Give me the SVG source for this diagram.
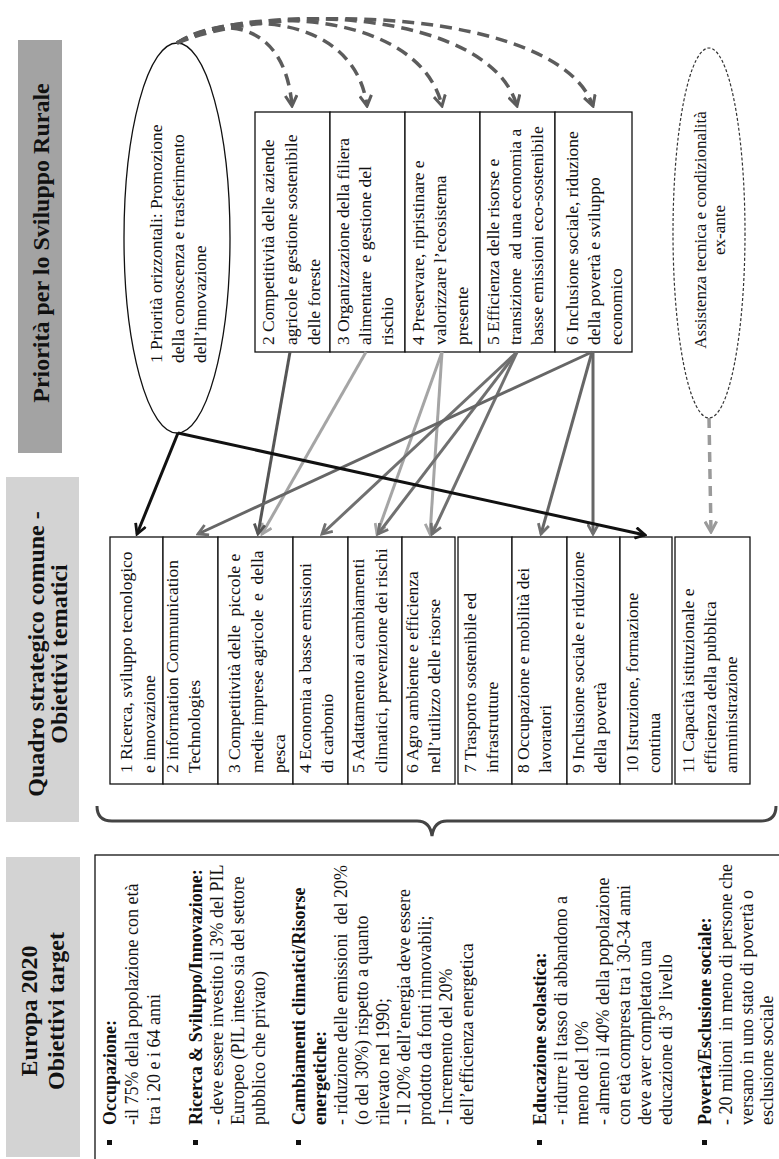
<svg xmlns="http://www.w3.org/2000/svg" width="779" height="1159" viewBox="0 0 779 1159">
<defs>
<style>
.hdr{font-family:"Liberation Serif","Times New Roman",serif;font-weight:bold;font-size:24px;fill:#111;text-anchor:middle}
.bx{font-family:"Liberation Serif","Times New Roman",serif;font-size:17.5px;fill:#111}
.eu{font-family:"Liberation Serif","Times New Roman",serif;font-size:18px;fill:#111}
.as{font-family:"Liberation Serif","Times New Roman",serif;font-size:17px;fill:#111;text-anchor:middle}
.b{font-weight:bold}
.box{fill:#fff;stroke:#111;stroke-width:1.3}
.ell{fill:#fff;stroke:#111;stroke-width:1.3}
.c{fill:none;stroke-width:3;stroke-linecap:butt}
.dash{fill:none;stroke:#5c5c5c;stroke-width:3.5;stroke-dasharray:12 7}
</style>
<marker id="mk-k" viewBox="0 0 12 12" refX="10" refY="6" markerWidth="13" markerHeight="13" orient="auto" markerUnits="userSpaceOnUse"><path d="M1,1 L10,6 L1,11" fill="none" stroke="#111" stroke-width="2.6"/></marker>
<marker id="mk-d" viewBox="0 0 12 12" refX="10" refY="6" markerWidth="13" markerHeight="13" orient="auto" markerUnits="userSpaceOnUse"><path d="M1,1 L10,6 L1,11" fill="none" stroke="#555" stroke-width="2.6"/></marker>
<marker id="mk-m" viewBox="0 0 12 12" refX="10" refY="6" markerWidth="13" markerHeight="13" orient="auto" markerUnits="userSpaceOnUse"><path d="M1,1 L10,6 L1,11" fill="none" stroke="#707070" stroke-width="2.6"/></marker>
<marker id="mk-l" viewBox="0 0 12 12" refX="10" refY="6" markerWidth="13" markerHeight="13" orient="auto" markerUnits="userSpaceOnUse"><path d="M1,1 L10,6 L1,11" fill="none" stroke="#a5a5a5" stroke-width="2.6"/></marker>
<marker id="mk-a" viewBox="0 0 12 12" refX="10" refY="6" markerWidth="14" markerHeight="14" orient="auto" markerUnits="userSpaceOnUse"><path d="M1,1 L10,6 L1,11" fill="none" stroke="#5c5c5c" stroke-width="2.6"/></marker>
<marker id="mk-g" viewBox="0 0 12 12" refX="10" refY="6" markerWidth="14" markerHeight="14" orient="auto" markerUnits="userSpaceOnUse"><path d="M1,1 L10,6 L1,11" fill="none" stroke="#9a9a9a" stroke-width="2.6"/></marker>
</defs>
<rect width="779" height="1159" fill="#fff"/>

<!-- headers -->
<g id="hdr-europa">
<rect x="6" y="857" width="74" height="300" fill="#d3d3d3"/>
<text class="hdr" transform="translate(0,1159) rotate(-90)"><tspan x="148" y="37">Europa 2020</tspan><tspan x="148" y="64">Obiettivi target</tspan></text>
</g>
<g id="hdr-quadro">
<rect x="6" y="477" width="73" height="345" fill="#d3d3d3"/>
<text class="hdr" transform="translate(0,1159) rotate(-90)"><tspan x="505" y="44">Quadro strategico comune -</tspan><tspan x="505" y="67">Obiettivi tematici</tspan></text>
</g>
<g id="hdr-priorita">
<rect x="18" y="40" width="44" height="413" fill="#a3a3a3"/>
<text class="hdr" transform="translate(0,1159) rotate(-90)"><tspan x="916" y="49">Priorità per lo Sviluppo Rurale</tspan></text>
</g>

<!-- Europa 2020 box -->
<g id="europa-box">
<rect x="95" y="855" width="700" height="320" fill="#fff" stroke="#111" stroke-width="1.3"/>
<g transform="translate(0,1159) rotate(-90)" fill="#111">
<rect x="14" y="107" width="5" height="5"/>
<rect x="14" y="193" width="5" height="5"/>
<rect x="14" y="296" width="5" height="5"/>
<rect x="14" y="537" width="5" height="5"/>
<rect x="14" y="702" width="5" height="5"/>
<text class="eu">
<tspan class="b" x="34" y="116">Occupazione:</tspan>
<tspan x="34" y="138">-il 75% della popolazione con età</tspan>
<tspan x="34" y="160">tra i 20 e i 64 anni</tspan>
<tspan class="b" x="34" y="202">Ricerca &amp; Sviluppo/Innovazione:</tspan>
<tspan x="34" y="223">- deve essere investito il 3% del PIL</tspan>
<tspan x="34" y="244">Europeo (PIL inteso sia del settore</tspan>
<tspan x="34" y="265">pubblico che privato)</tspan>
<tspan class="b" x="34" y="305">Cambiamenti climatici/Risorse</tspan>
<tspan class="b" x="34" y="326">energetiche:</tspan>
<tspan x="34" y="347">- riduzione delle emissioni&#160; del 20%</tspan>
<tspan x="34" y="368">(o del 30%) rispetto a quanto</tspan>
<tspan x="34" y="389">rilevato nel 1990;</tspan>
<tspan x="34" y="410">- Il 20% dell’energia deve essere</tspan>
<tspan x="34" y="431">prodotto da fonti rinnovabili;</tspan>
<tspan x="34" y="452">- Incremento del 20%</tspan>
<tspan x="34" y="473">dell’efficienza energetica</tspan>
<tspan class="b" x="34" y="546">Educazione scolastica:</tspan>
<tspan x="34" y="567">- ridurre il tasso di abbandono a</tspan>
<tspan x="34" y="588">meno del 10%</tspan>
<tspan x="34" y="609">- almeno il 40% della popolazione</tspan>
<tspan x="34" y="630">con età compresa tra i 30-34 anni</tspan>
<tspan x="34" y="651">deve aver completato una</tspan>
<tspan x="34" y="672">educazione di 3° livello</tspan>
<tspan class="b" x="34" y="711">Povertà/Esclusione sociale:</tspan>
<tspan x="34" y="732">- 20 milioni&#160; in meno di persone che</tspan>
<tspan x="34" y="753">versano in uno stato di povertà o</tspan>
<tspan x="34" y="773">esclusione sociale</tspan>
</text>
</g>
</g>

<!-- Quadro boxes -->
<g id="q1"><rect class="box" x="110" y="537" width="53" height="247"/><text class="bx" transform="translate(0,1159) rotate(-90)"><tspan x="386" y="132">1 Ricerca, sviluppo tecnologico</tspan><tspan x="386" y="155">e innovazione</tspan></text></g>
<g id="q2"><rect class="box" x="163" y="537" width="55" height="247"/><text class="bx" transform="translate(0,1159) rotate(-90)"><tspan x="386" y="178">2 information Communication</tspan><tspan x="386" y="200">Technologies</tspan></text></g>
<g id="q3"><rect class="box" x="218" y="537" width="75" height="247"/><text class="bx" transform="translate(0,1159) rotate(-90)"><tspan x="386" y="240">3 Competitività delle&#160; piccole e</tspan><tspan x="386" y="263">medie imprese agricole&#160; e&#160; della</tspan><tspan x="386" y="285">pesca</tspan></text></g>
<g id="q4"><rect class="box" x="293" y="537" width="55" height="247"/><text class="bx" transform="translate(0,1159) rotate(-90)"><tspan x="386" y="311">4 Economia a basse emissioni</tspan><tspan x="386" y="333">di carbonio</tspan></text></g>
<g id="q5"><rect class="box" x="348" y="537" width="54" height="247"/><text class="bx" transform="translate(0,1159) rotate(-90)"><tspan x="386" y="364">5 Adattamento ai cambiamenti</tspan><tspan x="386" y="387">climatici, prevenzione dei rischi</tspan></text></g>
<g id="q6"><rect class="box" x="402" y="537" width="53" height="247"/><text class="bx" transform="translate(0,1159) rotate(-90)"><tspan x="386" y="418">6 Agro ambiente e efficienza</tspan><tspan x="386" y="440">nell’utilizzo delle risorse</tspan></text></g>
<g id="q7"><rect class="box" x="458" y="537" width="54" height="247"/><text class="bx" transform="translate(0,1159) rotate(-90)"><tspan x="386" y="476">7 Trasporto sostenibile ed</tspan><tspan x="386" y="498">infrastrutture</tspan></text></g>
<g id="q8"><rect class="box" x="512" y="537" width="55" height="247"/><text class="bx" transform="translate(0,1159) rotate(-90)"><tspan x="386" y="529">8 Occupazione e mobilità dei</tspan><tspan x="386" y="551">lavoratori</tspan></text></g>
<g id="q9"><rect class="box" x="567" y="537" width="53" height="247"/><text class="bx" transform="translate(0,1159) rotate(-90)"><tspan x="386" y="584">9 Inclusione sociale e riduzione</tspan><tspan x="386" y="606">della povertà</tspan></text></g>
<g id="q10"><rect class="box" x="620" y="537" width="52" height="247"/><text class="bx" transform="translate(0,1159) rotate(-90)"><tspan x="386" y="638">10 Istruzione, formazione</tspan><tspan x="386" y="660">continua</tspan></text></g>
<g id="q11"><rect class="box" x="675" y="537" width="75" height="247"/><text class="bx" transform="translate(0,1159) rotate(-90)"><tspan x="386" y="694">11 Capacità istituzionale e</tspan><tspan x="386" y="716">efficienza della pubblica</tspan><tspan x="386" y="737">amministrazione</tspan></text></g>

<!-- Priorità -->
<g id="p1"><ellipse class="ell" cx="177" cy="238" rx="53" ry="195"/><text class="bx" transform="translate(0,1159) rotate(-90)"><tspan x="796" y="162">1 Priorità orizzontali: Promozione</tspan><tspan x="796" y="184">della conoscenza e trasferimento</tspan><tspan x="796" y="206">dell’innovazione</tspan></text></g>
<g id="p2"><rect class="box" x="255" y="112" width="75" height="240"/><text class="bx" transform="translate(0,1159) rotate(-90)"><tspan x="814" y="274">2 Competitività delle aziende</tspan><tspan x="814" y="297">agricole e gestione sostenibile</tspan><tspan x="814" y="320">delle foreste</tspan></text></g>
<g id="p3"><rect class="box" x="330" y="112" width="75" height="240"/><text class="bx" transform="translate(0,1159) rotate(-90)"><tspan x="814" y="349">3 Organizzazione della filiera</tspan><tspan x="814" y="371">alimentare&#160; e gestione del</tspan><tspan x="814" y="393">rischio</tspan></text></g>
<g id="p4"><rect class="box" x="405" y="112" width="75" height="240"/><text class="bx" transform="translate(0,1159) rotate(-90)"><tspan x="814" y="424">4 Preservare, ripristinare e</tspan><tspan x="814" y="446">valorizzare l’ecosistema</tspan><tspan x="814" y="468">presente</tspan></text></g>
<g id="p5"><rect class="box" x="480" y="112" width="75" height="240"/><text class="bx" transform="translate(0,1159) rotate(-90)"><tspan x="814" y="499">5 Efficienza delle risorse e</tspan><tspan x="814" y="521">transizione&#160; ad una economia a</tspan><tspan x="814" y="543">basse emissioni eco-sostenibile</tspan></text></g>
<g id="p6"><rect class="box" x="555" y="112" width="77" height="240"/><text class="bx" transform="translate(0,1159) rotate(-90)"><tspan x="814" y="578">6 Inclusione sociale, riduzione</tspan><tspan x="814" y="600">della povertà e sviluppo</tspan><tspan x="814" y="622">economico</tspan></text></g>
<g id="assistenza"><ellipse cx="709" cy="233" rx="36" ry="185" fill="#fff" stroke="#333" stroke-width="1.2" stroke-dasharray="3 2"/><text class="as" transform="translate(0,1159) rotate(-90)"><tspan x="929" y="706">Assistenza tecnica e condizionalità</tspan><tspan x="929" y="725">ex-ante</tspan></text></g>

<!-- connectors -->
<g id="connectors">
<path class="dash" d="M177,43 C220,15 285,20 292,106" marker-end="url(#mk-a)"/>
<path class="dash" d="M177,43 C235,8 355,15 367,106" marker-end="url(#mk-a)"/>
<path class="dash" d="M177,43 C250,3 420,12 442,106" marker-end="url(#mk-a)"/>
<path class="dash" d="M177,43 C265,0 490,10 517,106" marker-end="url(#mk-a)"/>
<path class="dash" d="M177,43 C280,0 560,10 593,106" marker-end="url(#mk-a)"/>
<path d="M709,418 L711,532" fill="none" stroke="#9a9a9a" stroke-width="3.5" stroke-dasharray="10 7" marker-end="url(#mk-g)"/>
<path class="c" stroke="#a5a5a5" d="M366,352 L262,534" marker-end="url(#mk-l)"/>
<path class="c" stroke="#a5a5a5" d="M442,352 L377,534" marker-end="url(#mk-l)"/>
<path class="c" stroke="#a5a5a5" d="M442,352 L430,534" marker-end="url(#mk-l)"/>
<path class="c" stroke="#555" d="M290,352 L258,534" marker-end="url(#mk-d)"/>
<path class="c" stroke="#707070" d="M517,352 L322,534" marker-end="url(#mk-m)"/>
<path class="c" stroke="#707070" d="M517,352 L378,534" marker-end="url(#mk-m)"/>
<path class="c" stroke="#707070" d="M517,352 L432,534" marker-end="url(#mk-m)"/>
<path class="c" stroke="#666" d="M592,352 L198,534" marker-end="url(#mk-m)"/>
<path class="c" stroke="#666" d="M592,352 L541,534" marker-end="url(#mk-m)"/>
<path class="c" stroke="#666" d="M593,352 L593,534" marker-end="url(#mk-m)"/>
<path class="c" stroke="#111" stroke-width="3.5" d="M178,433 L137,534" marker-end="url(#mk-k)"/>
<path class="c" stroke="#111" stroke-width="3.5" d="M178,433 L645,535" marker-end="url(#mk-k)"/>
<path d="M97,806 Q97,821 112,821 L417,821 Q430,821 432,836 Q434,821 447,821 L761,821 Q776,821 776,806" fill="none" stroke="#444" stroke-width="3"/>
</g>
</svg>
